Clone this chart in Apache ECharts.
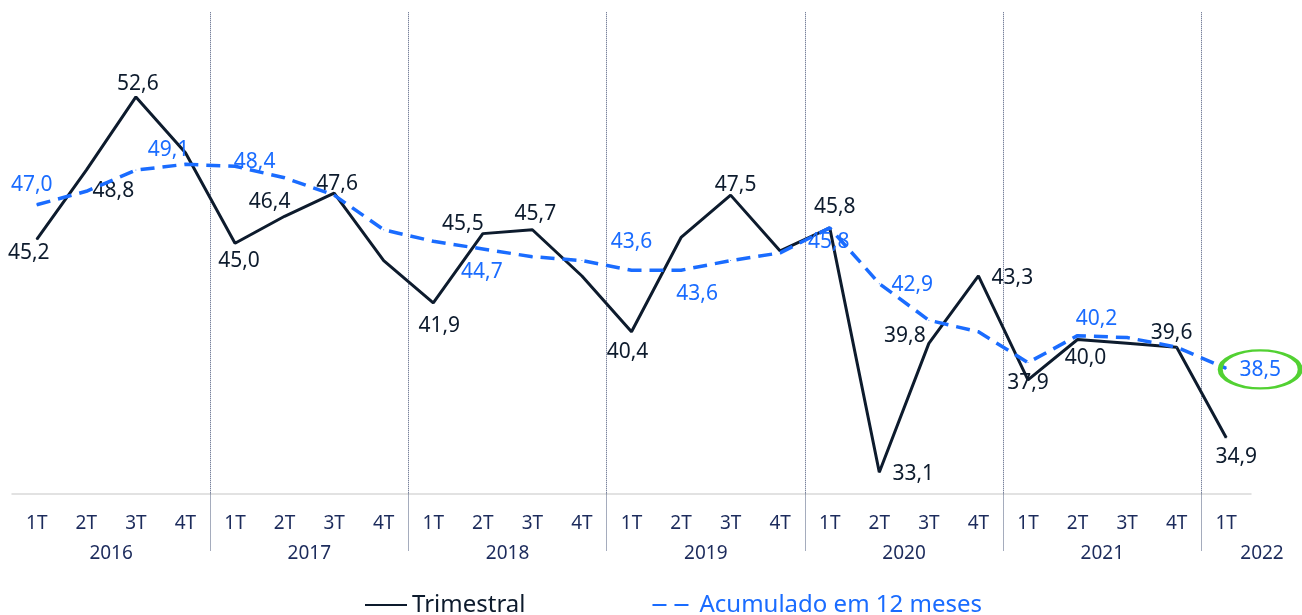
<!DOCTYPE html>
<html>
<head>
<meta charset="utf-8">
<script src="https://cdn.jsdelivr.net/npm/echarts@6/dist/echarts.min.js"></script>
<style>
  html, body { margin: 0; padding: 0; background: #fff; }
  #main { width: 1302px; height: 615px; }
</style>
</head>
<body>
<div id="main"></div>
<script>
// eixo x: trimestres e anos
var quarters = ['1T', '2T', '3T', '4T', '1T', '2T', '3T', '4T', '1T', '2T', '3T', '4T',
  '1T', '2T', '3T', '4T', '1T', '2T', '3T', '4T', '1T', '2T', '3T', '4T', '1T'];
var years = ['2016', '2017', '2018', '2019', '2020', '2021', '2022'];

// séries
var trimestral = [45.2, 48.8, 52.6, 49.7, 45.0, 46.4, 47.6, 44.1, 41.9, 45.5, 45.7, 43.3,
  40.4, 45.3, 47.5, 44.6, 45.8, 33.1, 39.8, 43.3, 37.9, 40.0, 39.8, 39.6, 34.9];
var acumulado = [47.0, 47.7, 48.8, 49.1, 49.0, 48.4, 47.5, 45.7, 45.1, 44.7, 44.3, 44.1,
  43.6, 43.6, 44.1, 44.5, 45.8, 42.9, 41.0, 40.4, 38.8, 40.2, 40.1, 39.6, 38.5];

// posição dos rótulos (índice: [dx, dy])
var posTri = {0: [-8, 14], 1: [27, 21], 2: [2, -13], 4: [4, 18], 5: [-15, -14], 6: [3, -9],
  8: [6, 23], 9: [-20, -10], 10: [3, -16], 12: [-4, 20], 14: [5, -10], 16: [5, -21],
  17: [34, 2], 18: [-24, -7], 19: [34, 2], 20: [0, 3], 21: [8, 19], 23: [-5, -14], 24: [10, 19]};
var posAcum = {0: [-5, -20], 3: [-17, -14], 5: [-30, -16], 9: [-1, 23], 12: [0, -28],
  13: [16, 24], 16: [-1, 14], 17: [33, 1], 21: [19, -17], 24: [34, 2]};

var corEscuro = '#0d1b2d';
var corAzul = '#1a6cff';
var corEixo = '#1c2b5c';

function fmt(v) {
  return v.toFixed(1).replace('.', ',');
}

function buildData(values, pos, color) {
  return values.map(function (v, i) {
    var p = pos[i];
    return {
      value: v,
      label: p ? {
        show: true,
        position: 'inside',
        offset: p,
        color: color,
        fontSize: 21,
        fontFamily: 'Noto Sans',
        formatter: function (d) { return fmt(d.value); }
      } : { show: false }
    };
  });
}

// eixo dos anos: 51 posições (meio trimestre)
var yearSlots = [];
for (var k = 0; k <= quarters.length * 2; k++) yearSlots.push('');
years.forEach(function (y, j) {
  if (j < years.length - 1) {
    yearSlots[8 * j + 4] = y;
  } else {
    yearSlots[quarters.length * 2] = { value: y, textStyle: { padding: [0, 0, 0, 22] } };
  }
});

var chart = echarts.init(document.getElementById('main'));
chart.setOption({
  animation: false,
  backgroundColor: '#fff',
  grid: { left: 12, right: 51, top: 12.25, bottom: 121.5 },
  legend: {
    left: 359,
    top: 588,
    itemWidth: 42,
    itemHeight: 14,
    itemGap: 126,
    itemStyle: { opacity: 0 },
    textStyle: { fontSize: 24, fontFamily: 'Noto Sans' },
    data: [
      { name: 'Trimestral', textStyle: { color: corEscuro } },
      { name: 'Acumulado em 12 meses', textStyle: { color: corAzul } }
    ]
  },
  xAxis: [
    {
      type: 'category',
      data: quarters,
      position: 'bottom',
      axisLine: { lineStyle: { color: '#d9d9d9', width: 1.5 } },
      axisTick: { show: false },
      axisLabel: { interval: 0, margin: 21, color: corEixo, fontSize: 19, fontFamily: 'Noto Sans' },
      splitLine: { show: false }
    },
    {
      type: 'category',
      data: yearSlots,
      boundaryGap: false,
      position: 'bottom',
      axisLine: { show: false },
      axisTick: {
        show: true,
        length: 58,
        interval: function (i) { return i > 0 && i % 8 === 0 && i < quarters.length * 2; },
        lineStyle: { color: '#4d5a7c', type: 'dotted', width: 1 }
      },
      axisLabel: { interval: 0, margin: 51, color: corEixo, fontSize: 19, fontFamily: 'Noto Sans' },
      splitLine: {
        show: true,
        interval: function (i) { return i > 0 && i % 8 === 0 && i < quarters.length * 2; },
        lineStyle: { color: '#4d5a7c', type: 'dotted', width: 1 }
      }
    }
  ],
  yAxis: {
    type: 'value',
    min: 32,
    max: 57,
    show: false,
    splitLine: { show: false }
  },
  series: [
    {
      name: 'Trimestral',
      type: 'line',
      xAxisIndex: 0,
      data: buildData(trimestral, posTri, corEscuro),
      symbol: 'circle',
      symbolSize: 1,
      itemStyle: { color: corEscuro },
      lineStyle: { color: corEscuro, width: 3 },
      z: 3
    },
    {
      name: 'Acumulado em 12 meses',
      type: 'line',
      xAxisIndex: 0,
      data: buildData(acumulado, posAcum, corAzul),
      symbol: 'circle',
      symbolSize: 1,
      itemStyle: { color: corAzul },
      lineStyle: { color: corAzul, width: 3.5, type: [14, 8] },
      z: 4,
      markPoint: {
        symbol: 'circle',
        symbolSize: [80, 38],
        symbolOffset: [34, 1],
        silent: true,
        label: { show: false },
        itemStyle: { color: 'rgba(0,0,0,0)', borderColor: '#52d132', borderWidth: 3.5 },
        data: [{ coord: [quarters.length - 1, acumulado[acumulado.length - 1]] }]
      }
    }
  ]
});
</script>
</body>
</html>
